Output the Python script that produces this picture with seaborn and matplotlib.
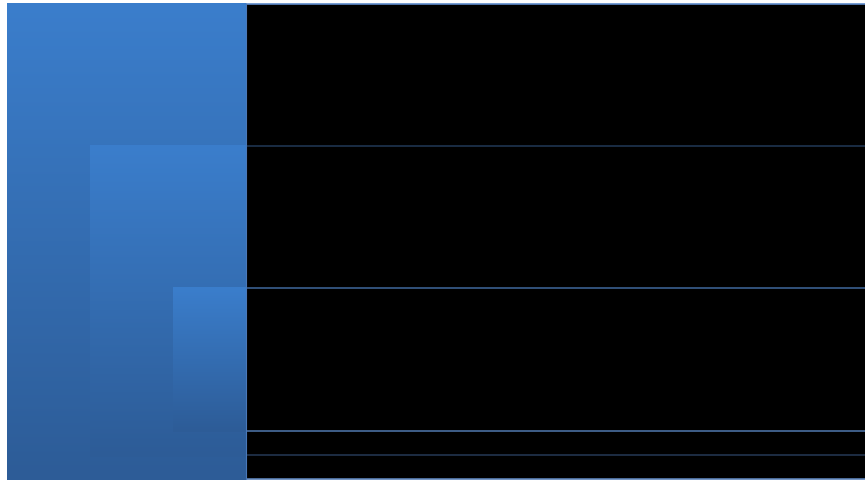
import numpy as np
import seaborn as sns
import matplotlib.pyplot as plt
from matplotlib.patches import Rectangle

# stage bars: left edge, right edge, top level, bottom level (chart units)
stage_start = [0.077, 0.99, 1.90]
stage_end = [2.70, 2.70, 2.70]
stage_top = [0.03, 1.45, 2.87]
stage_bottom = [4.80, 4.57, 4.32]

# horizontal rule levels across the right panel
rule_levels = [0.035, 1.46, 2.88, 4.31, 4.55, 4.785]
rule_colors = ["#5E8BCB", "#1F3450", "#3A5F90", "#4A6FA0", "#22344F", "#5B82BA"]

TOP_BLUE = "#3B7ECC"
BOTTOM_BLUE = "#2D5C97"


def make_graph():
    sns.set_theme(style="white", rc={"figure.facecolor": "white", "axes.facecolor": "white"})
    fig = plt.figure(figsize=(8.65, 4.8), dpi=100)
    ax = fig.add_axes([0, 0, 1, 1])
    ax.set_xlim(0.0, 9.5)
    ax.set_ylim(4.80, 0.0)
    ax.axis("off")
    return fig, ax


def draw_panel(ax):
    panel = Rectangle((2.7, rule_levels[0]), 9.5 - 2.7, rule_levels[-1] - rule_levels[0],
                      facecolor="black", edgecolor="none", zorder=1)
    ax.add_patch(panel)
    for lvl, col in zip(rule_levels, rule_colors):
        ax.hlines(lvl, 2.7, 9.5, color=col, linewidth=1.2, zorder=3)


def draw_stages(ax):
    cmap = sns.blend_palette([TOP_BLUE, BOTTOM_BLUE], as_cmap=True)
    grad = np.linspace(0, 1, 256).reshape(-1, 1)
    for i, (x0, x1, y0, y1) in enumerate(zip(stage_start, stage_end, stage_top, stage_bottom)):
        bars = ax.bar(x0, y1 - y0, width=x1 - x0, bottom=y0, align="edge",
                      color="none", edgecolor="none", zorder=2 + i)
        im = ax.imshow(grad, cmap=cmap, aspect="auto", extent=(x0, x1, y1, y0),
                       zorder=2 + i, interpolation="bicubic")
        im.set_clip_path(bars.patches[0])
    ax.vlines(2.7, 0.03, 4.80, color="#4A78B8", linewidth=0.8, zorder=6)


fig, ax = make_graph()
draw_panel(ax)
draw_stages(ax)
fig.savefig("out.png", dpi=100)
